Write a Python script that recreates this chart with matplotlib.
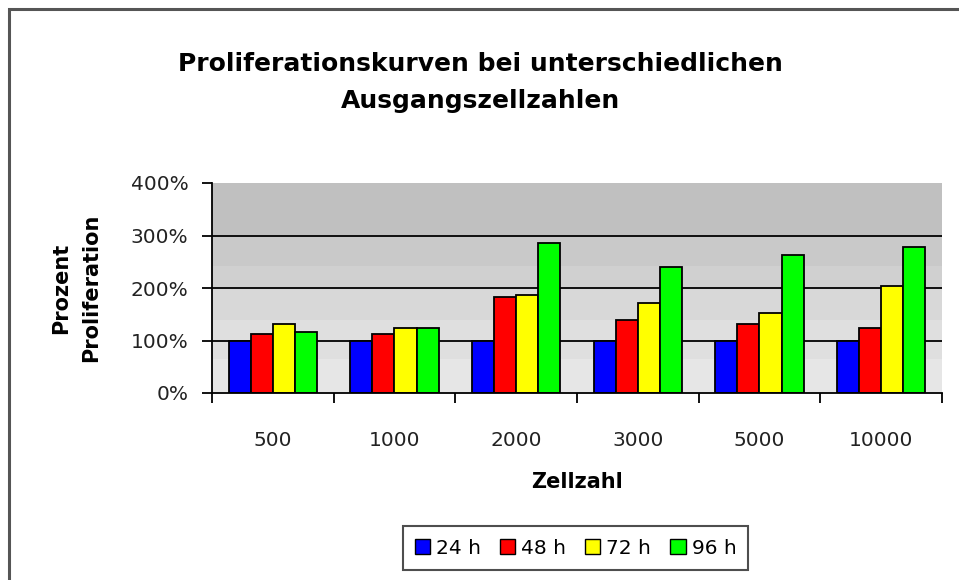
import numpy as np
import matplotlib
matplotlib.use("Agg")
import matplotlib.pyplot as plt
from matplotlib.patches import Rectangle

categories = ["500", "1000", "2000", "3000", "5000", "10000"]
series_names = ["24 h", "48 h", "72 h", "96 h"]
v24 = [100, 100, 100, 100, 100, 100]
v48 = [113, 113, 182, 140, 132, 124]
v72 = [132, 124, 186, 171, 152, 204]
v96 = [117, 124, 285, 240, 262, 278]
yticks = [0, 100, 200, 300, 400]
ytick_labels = ["0%", "100%", "200%", "300%", "400%"]
title_lines = ["Proliferationskurven bei unterschiedlichen", "Ausgangszellzahlen"]

colors = ["#0000ff", "#ff0000", "#ffff00", "#00ff00"]
FONT = "DejaVu Sans"

W, H = 959, 580
fig = plt.figure(figsize=(W / 100, H / 100), dpi=100)
fig.patch.set_facecolor("white")

# outer chart border (left & top visible)
fig.add_artist(Rectangle((8.5 / W, -0.1), 1.2, 1 - 8.5 / H + 0.1, transform=fig.transFigure,
                         fill=False, edgecolor="#555555", linewidth=2.2))

L, R, T, B = 212, 942, 183, 393
ax = fig.add_axes([L / W, 1 - B / H, (R - L) / W, (B - T) / H])
ax.set_facecolor("#e6e6e6")

# stepped gray gradient background (style only)
band_edges = [0, 65, 139, 199, 241, 301, 400]
band_cols = ["#e6e6e6", "#dfdfdf", "#d8d8d8", "#d0d0d0", "#c9c9c9", "#c0c0c0"]
for lo, hi, c in zip(band_edges[:-1], band_edges[1:], band_cols):
    ax.axhspan(lo, hi, color=c, linewidth=0, zorder=0)

data = [v24, v48, v72, v96]
x = np.arange(len(categories))
bw = 0.182
for i, (vals, c) in enumerate(zip(data, colors)):
    ax.bar(x + (i - 1.5) * bw, vals, width=bw, color=c, edgecolor="black",
           linewidth=1.3, zorder=3, label=series_names[i])

ax.set_xlim(-0.5, len(categories) - 0.5)
ax.set_ylim(0, 400)
for y in yticks[1:-1]:
    ax.axhline(y, color="black", linewidth=1.3, zorder=2)

for s in ["top", "right"]:
    ax.spines[s].set_visible(False)
ax.spines["left"].set_linewidth(1.3)
ax.spines["bottom"].set_linewidth(1.3)
ax.spines["left"].set_zorder(4)
ax.spines["bottom"].set_zorder(4)

ax.set_yticks(yticks)
ax.set_yticklabels(ytick_labels, fontsize=14.5, family=FONT, color="#222222")
ax.tick_params(axis="y", length=7, width=1.3, pad=10, direction="out")

ax.set_xticks(x)
ax.set_xticklabels(categories, fontsize=14.5, family=FONT, color="#222222")
ax.set_xticks(np.arange(-0.5, len(categories), 1.0), minor=True)
ax.tick_params(axis="x", which="major", length=0, pad=27)
ax.tick_params(axis="x", which="minor", length=7, width=1.3, direction="out")

ax.set_ylabel("Prozent\nProliferation", fontsize=15, fontweight="bold", family=FONT,
              linespacing=1.6)
ax.yaxis.set_label_coords(-0.152, 0.5)
ax.set_xlabel("Zellzahl", fontsize=15, fontweight="bold", family=FONT)
ax.xaxis.set_label_coords(0.5, -0.375)

fig.text(480 / W, 1 - 64 / H, title_lines[0], ha="center", va="center",
         fontsize=18, fontweight="bold", family=FONT)
fig.text(480 / W, 1 - 101 / H, title_lines[1], ha="center", va="center",
         fontsize=18, fontweight="bold", family=FONT)

leg = fig.legend(loc="center", bbox_to_anchor=(575.5 / W, 1 - 548 / H), ncol=4,
                 frameon=True, fancybox=False, shadow=False, prop={"family": FONT, "size": 14.5},
                 handlelength=0.75, handleheight=0.75, handletextpad=0.3, columnspacing=0.95,
                 borderpad=0.6, borderaxespad=0)
leg.get_frame().set_edgecolor("#222222")
leg.get_frame().set_linewidth(1.5)
for h in leg.legend_handles:
    h.set_linewidth(1.0)

fig.savefig("out.png", dpi=100)
